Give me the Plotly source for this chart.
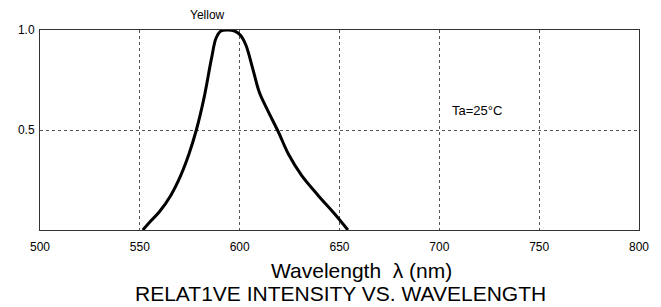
import plotly.graph_objects as go

wavelength = [551.5, 555, 559.7, 565.5, 570.5, 574.6, 578.3, 582.1, 585.9, 588.2, 590.6, 594,
              597.5, 600.3, 603.1, 606.5, 609.8, 613.6, 619.4, 624.4, 631, 639.3, 647.6, 654.2]
intensity = [0.0, 0.04, 0.09, 0.173, 0.273, 0.38, 0.5, 0.658, 0.858, 0.96, 0.995, 1.0,
             0.995, 0.975, 0.925, 0.808, 0.69, 0.607, 0.49, 0.38, 0.273, 0.173, 0.08, 0.0]
x_ticks = [500, 550, 600, 650, 700, 750, 800]
y_ticks = [0.5, 1.0]
y_tick_labels = ["0.5", "1.0"]

fig = go.Figure()
fig.add_trace(go.Scatter(x=wavelength, y=intensity, mode="lines",
                         line=dict(color="black", width=3, shape="spline", smoothing=1.0),
                         showlegend=False, hoverinfo="skip"))

font = "Liberation Sans, Arial, sans-serif"
fig.update_layout(
    width=661, height=307,
    margin=dict(l=40, r=18, t=30, b=77),
    paper_bgcolor="white", plot_bgcolor="white",
    font=dict(family=font, color="black", size=12),
    xaxis=dict(range=[500, 800], tickvals=x_ticks, ticktext=[str(v) for v in x_ticks],
               showgrid=True, gridcolor="#555", griddash="dot", gridwidth=1,
               showline=True, linecolor="#333", linewidth=1, mirror=True,
               ticks="", zeroline=False, tickfont=dict(size=12), ticklabelstandoff=6),
    yaxis=dict(range=[0, 1], tickvals=y_ticks, ticktext=y_tick_labels,
               showgrid=True, gridcolor="#555", griddash="dot", gridwidth=1,
               showline=True, linecolor="#333", linewidth=1, mirror=True,
               ticks="", zeroline=False, tickfont=dict(size=12), ticklabelstandoff=2),
    annotations=[
        dict(x=584, y=1.0, xref="x", yref="y", text="Yellow", showarrow=False,
             yanchor="middle", yshift=15, font=dict(size=12)),
        dict(x=719, y=0.6, xref="x", yref="y", text="Ta=25°C", showarrow=False,
             font=dict(size=13)),
        dict(x=0.537, y=0, xref="paper", yref="paper", text="Wavelength  λ (nm)",
             showarrow=False, yanchor="middle", yshift=-40, font=dict(size=21)),
        dict(x=0.502, y=0, xref="paper", yref="paper", text="RELAT1VE INTENSITY VS. WAVELENGTH",
             showarrow=False, yanchor="middle", yshift=-63, font=dict(size=21)),
    ],
)

fig.write_html("out.html", config={"displayModeBar": False},
               post_script="document.body.style.margin='0';")
